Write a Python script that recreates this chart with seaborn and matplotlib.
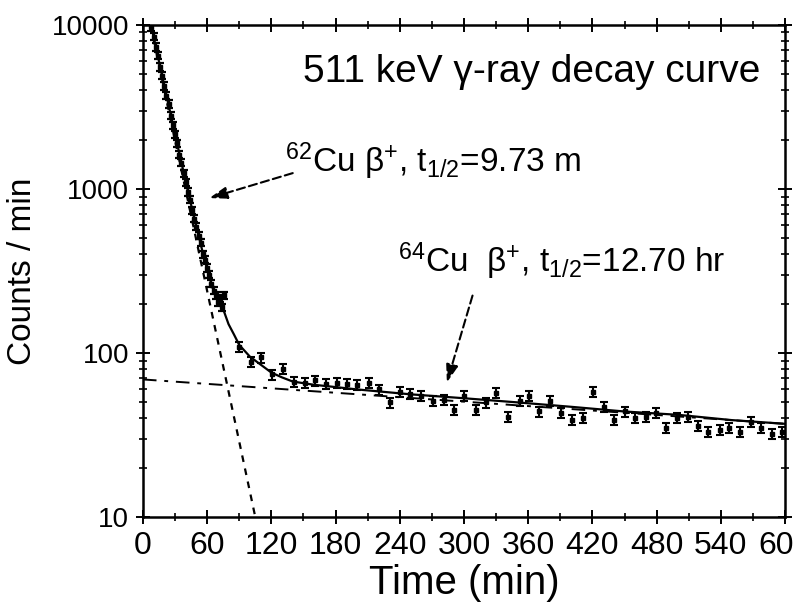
import numpy as np
import pandas as pd
import matplotlib
matplotlib.use("Agg")
import matplotlib.pyplot as plt
import matplotlib.ticker as mticker
import seaborn as sns

# measured 511 keV counts, fast (62Cu dominated) part
fast_t = [8, 10, 12, 14, 16, 18, 20, 22, 24, 26, 28, 30, 32, 34, 36, 38, 40, 42,
          44, 46, 48, 50, 52, 54, 56, 58, 60, 62, 64, 66, 68, 70, 72, 74, 76]
fast_counts = [9700, 8500, 7350, 6500, 5550, 4900, 4250, 3700, 3300, 2800, 2450,
               2150, 1900, 1620, 1450, 1250, 1100, 960, 860, 740, 660, 590, 520,
               470, 400, 370, 330, 300, 265, 240, 225, 205, 215, 190, 225]

# slow (64Cu dominated) part
slow_t = [90, 101, 110, 121, 131, 141, 151, 161, 171, 181, 191, 200, 211, 221,
          231, 240, 250, 260, 271, 281, 291, 300, 311, 321, 330, 341, 352, 361,
          370, 380, 391, 401, 411, 421, 431, 440, 450, 460, 470, 479, 489, 499,
          509, 519, 528, 539, 548, 558, 568, 578, 588, 597]
slow_counts = [109, 88, 94, 74, 80, 67, 66, 68, 65, 66, 65, 64, 66, 60, 50, 58,
               56, 55, 51, 52, 45, 55, 45, 50, 57, 41, 51, 55, 44, 51, 43, 39,
               40, 58, 47, 39, 44, 40, 41, 43, 35, 40, 41, 36, 33, 34, 35, 33,
               38, 35, 32, 33]

rel_err_fast = 0.05
rel_err_slow = 0.07

# fitted components (straight lines on log scale)
fit62_t = [0, 105]
fit62_counts = [16500, 10]
fit64_t = [0, 600]
fit64_counts = [69, 37]

# total fit
total_t = [7, 10, 15, 20, 25, 30, 35, 40, 45, 50, 55, 60, 65, 70, 75, 80, 85, 90,
           100, 110, 120, 130, 140, 160, 180, 200, 250, 300, 350, 400, 450, 500,
           550, 600]
total_counts = [10400, 8470, 6000, 4260, 3030, 2160, 1545, 1110, 803, 586, 433,
                325, 250, 205, 185, 150, 130, 112, 95, 85, 76, 71, 67, 64, 62,
                60, 56, 53, 50, 47, 44, 42, 39, 37]

x_ticks = [0, 60, 120, 180, 240, 300, 360, 420, 480, 540, 600]
y_ticks = [10, 100, 1000, 10000]
y_ticklabels = ["10", "100", "1000", "10000"]

sns.set_theme(style="ticks")
plt.rcParams["font.family"] = ["Liberation Sans", "DejaVu Sans"]
plt.rcParams["text.color"] = "black"
plt.rcParams["axes.labelcolor"] = "black"
plt.rcParams["mathtext.fontset"] = "custom"
plt.rcParams["mathtext.rm"] = "Liberation Sans"
plt.rcParams["mathtext.it"] = "Liberation Sans:italic"
plt.rcParams["mathtext.bf"] = "Liberation Sans:bold"

fig = plt.figure(figsize=(7.94, 6.11), dpi=100)
ax = fig.add_axes([0.180, 0.1538, 0.8087, 0.8053])
ax.set_yscale("log")

fit62 = pd.DataFrame({"t": fit62_t, "c": fit62_counts})
fit64 = pd.DataFrame({"t": fit64_t, "c": fit64_counts})
total = pd.DataFrame({"t": total_t, "c": total_counts})

sns.lineplot(data=fit62, x="t", y="c", ax=ax, color="black", lw=1.6,
             linestyle=(0, (3, 3)), sort=False)
sns.lineplot(data=fit64, x="t", y="c", ax=ax, color="black", lw=1.4,
             linestyle=(0, (7, 4, 2, 4)), sort=False)
sns.lineplot(data=total, x="t", y="c", ax=ax, color="black", lw=1.6, sort=False)

fc = np.array(fast_counts, dtype=float)
sc = np.array(slow_counts, dtype=float)
ax.errorbar(fast_t, fc, yerr=fc * rel_err_fast, fmt="s", ms=3, color="black",
            ecolor="black", elinewidth=1.6, capsize=3, capthick=1.6)
ax.errorbar(slow_t, sc, yerr=sc * rel_err_slow, fmt="s", ms=2.5, color="black",
            ecolor="black", elinewidth=1.5, capsize=3, capthick=1.5)

ax.set_xlim(0, 600)
ax.set_ylim(10, 10000)
ax.set_xticks(x_ticks)
ax.set_xticklabels([str(v) for v in x_ticks], fontsize=23)
ax.xaxis.set_minor_locator(mticker.MultipleLocator(30))
ax.set_yticks(y_ticks)
ax.set_yticklabels(y_ticklabels, fontsize=20)
ax.yaxis.set_minor_locator(mticker.LogLocator(base=10, subs=np.arange(2, 10)))
ax.yaxis.set_minor_formatter(mticker.NullFormatter())

ax.tick_params(which="major", direction="inout", length=10, width=1.4,
               top=True, right=True, colors="black")
ax.tick_params(which="minor", direction="inout", length=6, width=1.2,
               top=True, right=True, colors="black")
ax.tick_params(axis="x", which="major", pad=5)
ax.tick_params(axis="y", which="major", pad=5)
for sp in ax.spines.values():
    sp.set_visible(True)
    sp.set_color("black")
    sp.set_linewidth(1.8)

ax.set_xlabel("Time (min)", fontsize=29, labelpad=2)
ax.set_ylabel("Counts / min", fontsize=24, labelpad=10)

ax.text(0.249, 0.884, "511 keV γ-ray decay curve", transform=ax.transAxes,
        fontsize=28, ha="left", va="baseline")
ax.text(0.221, 0.701, r"$^{62}$Cu β$^{+}$, t$_{1/2}$=9.73 m",
        transform=ax.transAxes, fontsize=24, ha="left", va="baseline")
ax.text(0.397, 0.498, r"$^{64}$Cu  β$^{+}$, t$_{1/2}$=12.70 hr",
        transform=ax.transAxes, fontsize=24, ha="left", va="baseline")

arrow = dict(arrowstyle="-|>,head_length=0.9,head_width=0.3", color="black",
             lw=1.5, linestyle=(0, (4, 2)), shrinkA=0, shrinkB=0)
ax.annotate("", xy=(62, 880), xytext=(140, 1250), arrowprops=arrow)
ax.annotate("", xy=(284, 66), xytext=(308, 224), arrowprops=arrow)

fig.savefig("out.png", dpi=100)
